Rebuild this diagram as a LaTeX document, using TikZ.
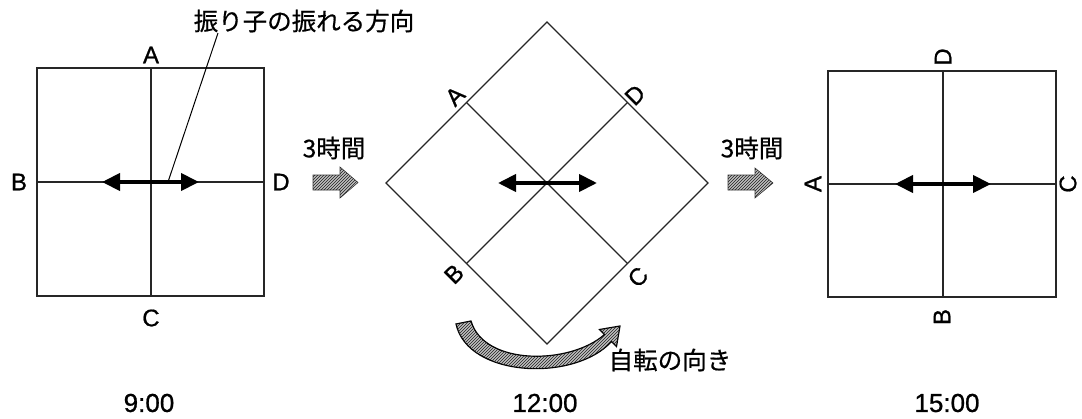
\documentclass[tikz,border=0pt]{standalone}
\usepackage{fontspec}
\setmainfont{Liberation Sans}[FakeBold=0.8]
\newfontfamily\jp{Noto Sans CJK JP}[FakeBold=0.6]
\usetikzlibrary{arrows.meta,patterns}
\begin{document}
\begin{tikzpicture}[x=1pt,y=-1pt,
 grid/.style={draw=black!85,line width=1.3pt},
 swing/.style={line width=4pt,{Triangle[length=18pt,width=17pt]}-{Triangle[length=18pt,width=17pt]}},
 lbl/.style={font=\fontsize{24}{26}\selectfont,inner sep=0pt},
 jlbl/.style={font=\jp\fontsize{24.5}{27}\selectfont,inner sep=0pt},
 tlbl/.style={font=\fontsize{26}{29}\selectfont,inner sep=0pt},
 blockarrow/.style={fill=gray!50,draw=gray!45!black,line width=0.6pt},
 hatch/.style={pattern=north east lines,pattern color=gray!25!black},
]
\useasboundingbox (0,0) rectangle (1082,418);

% ---------- 9:00 ----------
\draw[grid] (37,68) rectangle (264,296);
\draw[grid] (151,68) -- (151,296);
\draw[grid] (37,182) -- (264,182);
\coordinate (la) at (102,182);
\coordinate (lb) at (199,182);
\draw[swing] (la) -- (lb);
\node[lbl] (lA) at (151,55) {A};
\node[lbl] (lB) at (19,182) {B};
\node[lbl] (lC) at (151,318) {C};
\node[lbl] (lD) at (281,182) {D};
\node[jlbl] (call) at (304,21) {振り子の振れる方向};
\coordinate (cs) at (218,33);
\coordinate (ce) at (168,182);
\draw[line width=1pt] (cs) -- (ce);
\node[tlbl] (t9) at (149,403) {9:00};

% ---------- first shift ----------
\node[jlbl] (h1) at (334,148) {3時間};
\filldraw[blockarrow] (313,175) -- (340,175) -- (340,167) -- (358,182.5) -- (340,198) -- (340,190) -- (313,190) -- cycle;
\fill[hatch] (313,175) -- (340,175) -- (340,167) -- (358,182.5) -- (340,198) -- (340,190) -- (313,190) -- cycle;

% ---------- 12:00 ----------
\draw[grid] (547,22) -- (708,183) -- (547,344) -- (386,183) -- cycle;
\draw[grid] (466.5,102.5) -- (627.5,263.5);
\draw[grid] (627.5,102.5) -- (466.5,263.5);
\coordinate (ma) at (498,183);
\coordinate (mb) at (597,183);
\draw[swing] (ma) -- (mb);
\node[lbl,rotate=45] (mA) at (455,96) {A};
\node[lbl,rotate=45] (mD) at (635,95) {D};
\node[lbl,rotate=45] (mB) at (454,274) {B};
\node[lbl,rotate=45] (mC) at (638,277) {C};
\filldraw[fill=gray!50,draw=black,line width=1.2pt] (456,324) .. controls (468,378) and (575,382) .. (611.5,341.5) -- (616.5,346.5) -- (620,326) -- (599.5,329.5) -- (604.5,334.5) .. controls (570,365) and (484,366) .. (471,321) -- cycle;
\fill[hatch] (456,324) .. controls (468,378) and (575,382) .. (611.5,341.5) -- (616.5,346.5) -- (620,326) -- (599.5,329.5) -- (604.5,334.5) .. controls (570,365) and (484,366) .. (471,321) -- cycle;
\node[jlbl] (rot) at (670,360) {自転の向き};
\node[tlbl] (t12) at (545,403) {12:00};

% ---------- second shift ----------
\node[jlbl] (h2) at (752,148) {3時間};
\filldraw[blockarrow] (728,175) -- (755,175) -- (755,168) -- (773,183) -- (755,198) -- (755,190) -- (728,190) -- cycle;
\fill[hatch] (728,175) -- (755,175) -- (755,168) -- (773,183) -- (755,198) -- (755,190) -- (728,190) -- cycle;

% ---------- 15:00 ----------
\draw[grid] (828,71) rectangle (1056,297);
\draw[grid] (943,71) -- (943,297);
\draw[grid] (828,184) -- (1056,184);
\coordinate (ra) at (895,184);
\coordinate (rb) at (991,184);
\draw[swing] (ra) -- (rb);
\node[lbl,rotate=90] (rD) at (943,57) {D};
\node[lbl,rotate=90] (rB) at (942,317) {B};
\node[lbl,rotate=90] (rA) at (813,184) {A};
\node[lbl,rotate=90] (rC) at (1068,184) {C};
\node[tlbl] (t15) at (947,403) {15:00};
\end{tikzpicture}
\end{document}
